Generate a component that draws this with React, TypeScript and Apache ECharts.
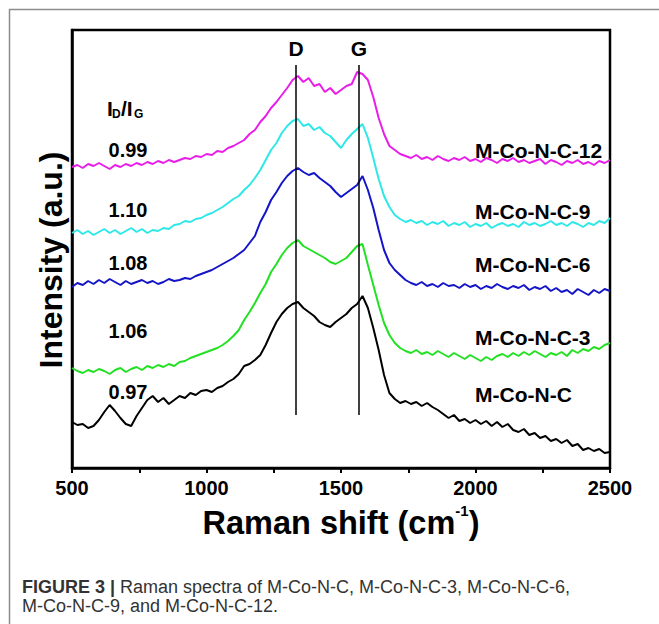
import React, { useEffect, useRef } from 'react';
import * as echarts from 'echarts';

// Raman shift grid (cm^-1), 500 → 2500 every 20
const WAVENUMBERS: number[] = Array.from({ length: 101 }, (_, i) => 500 + 20 * i);

const SAMPLE_NAMES = ['M-Co-N-C-12', 'M-Co-N-C-9', 'M-Co-N-C-6', 'M-Co-N-C-3', 'M-Co-N-C'];
const ID_IG_RATIOS = ['0.99', '1.10', '1.08', '1.06', '0.97'];
const X_TICK_LABELS = ['500', '1000', '1500', '2000', '2500'];
const BAND_NAMES = ['D', 'G'];
const BAND_POSITIONS = [1333, 1567];
const BAND_LINE_RANGE = [53, 403];

// Intensities (a.u., stacked offsets as plotted)
const I_MCONC_12 = [
  301, 303, 300, 304, 302, 305, 302, 299, 303, 301, 304, 302, 305, 303, 306, 304, 307, 305, 308, 306,
  308, 310, 309, 312, 311, 314, 313, 317, 316, 320, 322, 325, 328, 334, 338, 346, 352, 360, 366, 373, 380, 388, 392,
  386, 390, 382, 384, 376, 380, 374, 378, 382, 384, 396, 394, 388, 371, 350, 334, 322, 318, 314,
  312, 310, 313, 309, 311, 308, 312, 309, 307, 310, 308, 311, 307, 309, 306, 310, 308, 305, 309, 307,
  310, 306, 308, 305, 307, 309, 304, 308, 306, 303, 307, 305, 308, 304, 306, 303, 307, 305, 308,
];
const I_MCONC_9 = [
  235, 238, 234, 237, 233, 236, 239, 235, 238, 234, 237, 240, 236, 239, 235, 238, 237, 240, 239, 243,
  244, 247, 246, 249, 250, 253, 255, 258, 261, 265, 269, 272, 278, 283, 290,
  298, 308, 318, 325, 335, 342, 347, 349, 342, 344, 338, 341, 335, 332, 326, 320, 328, 334, 339, 344,
  330, 310, 289, 272, 261, 253, 249, 246,
  248, 245, 247, 243, 246, 244, 247, 242, 245, 243, 246, 241, 244, 242, 245, 240, 243, 245, 242, 244,
  241, 246, 243, 245, 242, 244, 247, 243, 245, 242, 246, 244, 241, 245, 243, 247, 245, 250,
];
const I_MCONC_6 = [
  181, 185, 183, 187, 184, 188, 185, 189, 186, 183, 187, 184, 186, 188, 185, 187, 184, 186, 189, 187,
  188, 190, 189, 192, 194, 196, 198, 201, 204, 207, 210, 214, 218, 225, 232,
  246, 256, 268, 276, 285, 292, 297, 300, 296, 293, 295, 290, 286, 282, 276, 271, 275, 279, 283, 292,
  278, 260, 238, 218, 205, 198, 193, 188,
  185, 183, 186, 182, 184, 181, 185, 182, 183, 180, 184, 181, 183, 179, 182, 180, 184, 181, 179, 182,
  180, 183, 178, 181, 179, 182, 177, 180, 176, 178, 174, 179, 176, 173, 178, 175, 179, 177,
];
const I_MCONC_3 = [
  100, 97, 95, 98, 96, 99, 97, 94, 98, 100, 96, 99, 101, 98, 102, 100, 103, 101, 104, 102,
  106, 107, 110, 112, 114, 116, 118, 120, 123, 127, 132, 138, 148, 156, 165,
  175, 184, 196, 204, 213, 220, 225, 228, 222, 219, 216, 213, 210, 206, 204, 207, 210, 216, 222, 224,
  203, 183, 163, 145, 133, 125, 120, 117,
  115, 118, 114, 116, 113, 117, 114, 111, 115, 112, 109, 113, 110, 107, 111, 108, 112, 114, 111, 115,
  112, 116, 113, 117, 114, 111, 115, 113, 116, 112, 118, 115, 119, 117, 121, 119, 123, 125,
];
const I_MCONC = [
  46, 43, 44, 40, 42, 48, 56, 63, 57, 50, 44, 42, 52, 60, 68, 72, 66, 70, 64, 68,
  72, 70, 75, 73, 77, 78, 76, 80, 82, 86, 89, 94, 102, 104, 108,
  113, 123, 135, 146, 154, 160, 164, 166, 160, 156, 152, 146, 143, 141, 146, 150, 154, 160, 164, 172,
  160, 140, 118, 93, 75, 69, 65, 67,
  64, 66, 62, 65, 61, 58, 54, 50, 53, 47, 49, 45, 48, 44, 47, 42, 46, 41, 44, 38,
  36, 39, 33, 35, 30, 32, 27, 29, 25, 28, 22, 24, 18, 20, 17, 19, 15, 16,
];

const SERIES_VALUES = [I_MCONC_12, I_MCONC_9, I_MCONC_6, I_MCONC_3, I_MCONC];
const SERIES_COLORS = ['#e81ee8', '#2ee8e8', '#1414c8', '#22e022', '#000000'];

const FONT = "'Liberation Sans', Arial, Helvetica, sans-serif";
const CAPTION_FONT = "'Liberation Sans', Arial, Helvetica, sans-serif";

// annotation placement (pixels)
const RATIO_Y = [150, 210, 263, 331, 392];
const NAME_Y = [150, 211, 264, 337, 394];

export default function App() {
  const ref = useRef<HTMLDivElement>(null);
  useEffect(() => {
    if (!ref.current) return;
    const chart = echarts.init(ref.current, undefined, { renderer: 'svg' });

    const series: any[] = SAMPLE_NAMES.map((name, k) => ({
      name,
      type: 'line',
      data: WAVENUMBERS.map((w, i) => [w, SERIES_VALUES[k][i]]),
      showSymbol: false,
      symbol: 'none',
      lineStyle: { color: SERIES_COLORS[k], width: 2 },
      itemStyle: { color: SERIES_COLORS[k] },
      z: 2,
    }));
    series[0].markLine = {
      silent: true,
      symbol: ['none', 'none'],
      lineStyle: { color: '#000', width: 1.5, type: 'solid' },
      label: {
        show: true,
        position: 'end',
        distance: 6,
        formatter: (p: any) => p.name,
        fontFamily: FONT,
        fontSize: 21,
        fontWeight: 'bold',
        color: '#000',
      },
      data: BAND_NAMES.map((n, j) => [
        { name: n, coord: [BAND_POSITIONS[j], BAND_LINE_RANGE[0]] },
        { coord: [BAND_POSITIONS[j], BAND_LINE_RANGE[1]] },
      ]),
    };

    const graphic: any[] = [
      {
        type: 'rect',
        shape: { x: 9.5, y: 9.5, width: 800, height: 800 },
        style: { fill: 'none', stroke: '#8c8c8c', lineWidth: 1.5 },
        silent: true,
        z: -1,
      },
      { type: 'text', x: 107, y: 108, style: { text: 'I', font: `bold 21px ${FONT}`, fill: '#000', align: 'left', verticalAlign: 'middle' } },
      { type: 'text', x: 112, y: 114, style: { text: 'D', font: `bold 12px ${FONT}`, fill: '#000', align: 'left', verticalAlign: 'middle' } },
      { type: 'text', x: 121, y: 108, style: { text: '/I', font: `bold 21px ${FONT}`, fill: '#000', align: 'left', verticalAlign: 'middle' } },
      { type: 'text', x: 134, y: 114, style: { text: 'G', font: `bold 12px ${FONT}`, fill: '#000', align: 'left', verticalAlign: 'middle' } },
      ...ID_IG_RATIOS.map((r, k) => ({
        type: 'text', x: 128, y: RATIO_Y[k],
        style: { text: r, font: `bold 20px ${FONT}`, fill: '#000', align: 'center', verticalAlign: 'middle' },
      })),
      ...SAMPLE_NAMES.map((n, k) => ({
        type: 'text', x: 475, y: NAME_Y[k],
        style: { text: n, font: `bold 21px ${FONT}`, fill: '#000', align: 'left', verticalAlign: 'middle' },
      })),
      {
        type: 'text', x: 22, y: 587,
        style: {
          text: '{b|FIGURE 3 |} {r|Raman spectra of M-Co-N-C, M-Co-N-C-3, M-Co-N-C-6,}',
          verticalAlign: 'middle', align: 'left',
          rich: {
            b: { fontFamily: CAPTION_FONT, fontSize: 18, fontWeight: 'bold', fill: '#333', lineHeight: 18 },
            r: { fontFamily: CAPTION_FONT, fontSize: 18, fill: '#333', lineHeight: 18 },
          },
          font: `18px ${CAPTION_FONT}`, fill: '#333', lineHeight: 18,
        },
      },
      {
        type: 'text', x: 22, y: 606,
        style: { text: 'M-Co-N-C-9, and M-Co-N-C-12.', font: `18px ${CAPTION_FONT}`, fill: '#333', align: 'left', verticalAlign: 'middle', lineHeight: 18 },
      },
    ];

    chart.setOption({
      animation: false,
      backgroundColor: '#fff',
      grid: { left: 72, right: 49, top: 30, bottom: 156, show: true, borderColor: '#000', borderWidth: 2.5, backgroundColor: 'transparent' },
      xAxis: {
        type: 'value', min: 500, max: 2500, interval: 250,
        axisLine: { show: true, onZero: false, lineStyle: { color: '#000', width: 2.5 } },
        axisTick: { show: true, inside: false, length: 5, lineStyle: { color: '#000', width: 2 } },
        axisLabel: {
          formatter: (v: number) => (X_TICK_LABELS.includes(String(v)) ? String(v) : ''),
          color: '#000', fontSize: 20, fontWeight: 'bold', fontFamily: FONT, margin: 10,
        },
        splitLine: { show: false },
        name: '{t|Raman shift (cm}{s|-1}{t|)}',
        nameLocation: 'middle',
        nameGap: 27,
        nameTextStyle: {
          rich: {
            t: { fontSize: 32.5, fontWeight: 'bold', fontFamily: FONT, color: '#000', lineHeight: 37, verticalAlign: 'bottom' },
            s: { fontSize: 15, fontWeight: 'bold', fontFamily: FONT, color: '#000', lineHeight: 20, verticalAlign: 'top' },
          },
        },
      },
      yAxis: {
        type: 'value', min: 0, max: 438,
        axisLine: { show: true, lineStyle: { color: '#000', width: 2.5 } },
        axisTick: { show: false }, axisLabel: { show: false }, splitLine: { show: false },
        name: 'Intensity (a.u.)', nameLocation: 'middle', nameGap: 5,
        nameTextStyle: { fontSize: 32, fontWeight: 'bold', fontFamily: FONT, color: '#000', padding: [0, 22, 0, 0] },
      },
      series,
      graphic,
    });
    return () => chart.dispose();
  }, []);
  return <div ref={ref} style={{ position: 'fixed', left: 0, top: 0, width: 659, height: 624 }} />;
}
